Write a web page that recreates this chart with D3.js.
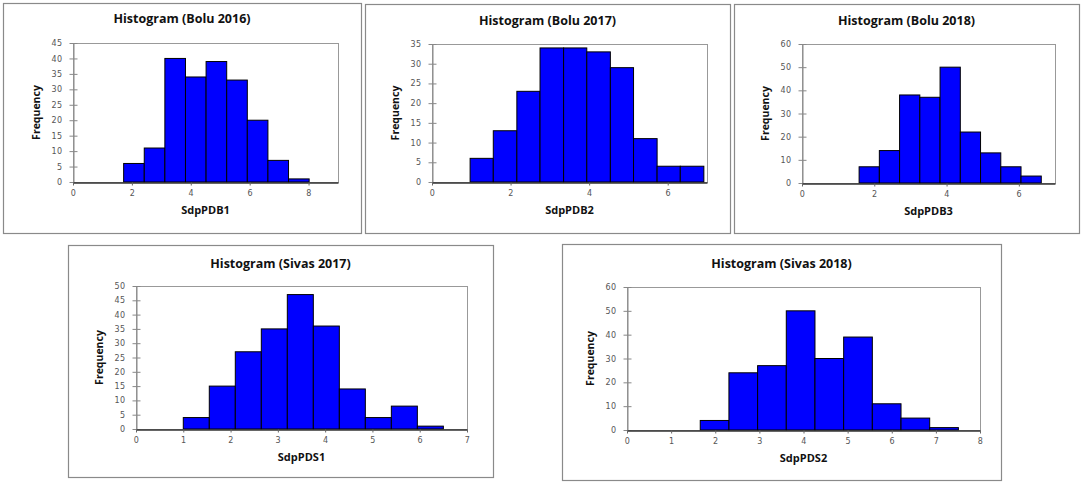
<!DOCTYPE html>
<html>
<head>
<meta charset="utf-8">
<script src="https://cdn.jsdelivr.net/npm/d3@7"></script>
<style>
  html, body { margin: 0; padding: 0; background: #fff; }
  svg { display: block; }
  .title { font-family: "Open Sans", sans-serif; font-weight: 700; font-size: 12.5px; fill: #111; }
  .xlab { font-family: "Open Sans", sans-serif; font-weight: 700; font-size: 11px; fill: #111; }
  .ylab { font-family: "Liberation Sans Narrow", "Open Sans", sans-serif; font-weight: 700; font-size: 10.5px; fill: #111; }
  .tick text { font-family: "DejaVu Sans", sans-serif; font-size: 8px; fill: #555; letter-spacing: 0.4px; }
</style>
</head>
<body>
<svg id="chart" width="1081" height="484"></svg>
<script>
// Histogram data: bin edges and frequencies per panel
const bolu2016Edges  = [1.72, 2.42, 3.12, 3.82, 4.52, 5.22, 5.92, 6.62, 7.32, 8.02];
const bolu2016Counts = [6, 11, 40, 34, 39, 33, 20, 7, 1];

const bolu2017Edges  = [0.97, 1.56, 2.16, 2.75, 3.35, 3.94, 4.54, 5.13, 5.73, 6.32, 6.92];
const bolu2017Counts = [6, 13, 23, 34, 34, 33, 29, 11, 4, 4];

const bolu2018Edges  = [1.58, 2.14, 2.70, 3.26, 3.82, 4.38, 4.94, 5.50, 6.06, 6.62];
const bolu2018Counts = [7, 14, 38, 37, 50, 22, 13, 7, 3];

const sivas2017Edges  = [1.00, 1.55, 2.10, 2.65, 3.20, 3.75, 4.30, 4.85, 5.40, 5.95, 6.50];
const sivas2017Counts = [4, 15, 27, 35, 47, 36, 14, 4, 8, 1];

const sivas2018Edges  = [1.66, 2.31, 2.96, 3.61, 4.26, 4.91, 5.56, 6.21, 6.86, 7.51];
const sivas2018Counts = [4, 24, 27, 50, 30, 39, 11, 5, 1];

// axis ticks
const xTicksEven9 = [0, 2, 4, 6, 8];
const xTicksEven7 = [0, 2, 4, 6];
const xTicks7 = [0, 1, 2, 3, 4, 5, 6, 7];
const xTicks8 = [0, 1, 2, 3, 4, 5, 6, 7, 8];
const yTicks45 = [0, 5, 10, 15, 20, 25, 30, 35, 40, 45];
const yTicks35 = [0, 5, 10, 15, 20, 25, 30, 35];
const yTicks50 = [0, 5, 10, 15, 20, 25, 30, 35, 40, 45, 50];
const yTicks60 = [0, 10, 20, 30, 40, 50, 60];

const panels = [
  { title: "Histogram (Bolu 2016)", xlab: "SdpPDB1", edges: bolu2016Edges, counts: bolu2016Counts,
    xMax: 9, yMax: 45, xTicks: xTicksEven9, yTicks: yTicks45,
    frame: [3, 3, 361, 233], plot: [73, 43, 338, 182], titleY: 19 },
  { title: "Histogram (Bolu 2017)", xlab: "SdpPDB2", edges: bolu2017Edges, counts: bolu2017Counts,
    xMax: 7, yMax: 35, xTicks: xTicksEven7, yTicks: yTicks35,
    frame: [365, 4, 730, 233], plot: [432, 44, 707, 182], titleY: 21 },
  { title: "Histogram (Bolu 2018)", xlab: "SdpPDB3", edges: bolu2018Edges, counts: bolu2018Counts,
    xMax: 7, yMax: 60, xTicks: xTicksEven7, yTicks: yTicks60,
    frame: [734, 4, 1079, 233], plot: [802, 44, 1055, 183], titleY: 21 },
  { title: "Histogram (Sivas 2017)", xlab: "SdpPDS1", edges: sivas2017Edges, counts: sivas2017Counts,
    xMax: 7, yMax: 50, xTicks: xTicks7, yTicks: yTicks50,
    frame: [68, 245, 493, 477], plot: [136, 286, 467, 429], titleY: 264 },
  { title: "Histogram (Sivas 2018)", xlab: "SdpPDS2", edges: sivas2018Edges, counts: sivas2018Counts,
    xMax: 8, yMax: 60, xTicks: xTicks8, yTicks: yTicks60,
    frame: [562, 244, 1001, 480], plot: [627, 287, 980, 430], titleY: 264 },
];

const svg = d3.select("#chart");
const fmt = d3.format("d");

panels.forEach(p => {
  const [fx0, fy0, fx1, fy1] = p.frame;
  const [px0, py0, px1, py1] = p.plot;
  const g = svg.append("g");

  // outer frame
  g.append("rect").attr("x", fx0 + 0.5).attr("y", fy0 + 0.5)
    .attr("width", fx1 - fx0).attr("height", fy1 - fy0)
    .attr("fill", "#fff").attr("stroke", "#8a8a8a").attr("stroke-width", 1.2);

  const x = d3.scaleLinear().domain([0, p.xMax]).range([px0, px1]);
  const y = d3.scaleLinear().domain([0, p.yMax]).range([py1, py0]);

  // plot area border (top/right)
  g.append("rect").attr("x", px0 + 0.5).attr("y", py0 + 0.5)
    .attr("width", px1 - px0).attr("height", py1 - py0)
    .attr("fill", "none").attr("stroke", "#999");

  // bars
  const bins = p.counts.map((c, i) => ({ x0: p.edges[i], x1: p.edges[i + 1], n: c }));
  g.selectAll("rect.bar").data(bins).join("rect").attr("class", "bar")
    .attr("x", d => x(d.x0)).attr("width", d => x(d.x1) - x(d.x0))
    .attr("y", d => y(d.n)).attr("height", d => y(0) - y(d.n))
    .attr("fill", "#0000ff").attr("stroke", "#000").attr("stroke-width", 1);

  // y axis (gray, crossing ticks)
  const gy = g.append("g").attr("transform", `translate(${px0 + 0.5},0)`)
    .call(d3.axisLeft(y).tickValues(p.yTicks).tickFormat(fmt).tickSize(4).tickPadding(7).tickSizeOuter(0));
  gy.select(".domain").attr("stroke", "#888");
  gy.selectAll(".tick line").attr("stroke", "#888").attr("x2", 4).attr("x1", -4);

  // x axis (dark line, ticks down)
  const gx = g.append("g").attr("transform", `translate(0,${py1 + 0.5})`)
    .call(d3.axisBottom(x).tickValues(p.xTicks).tickFormat(fmt).tickSize(3).tickPadding(5).tickSizeOuter(0));
  gx.select(".domain").attr("stroke", "#333").attr("stroke-width", 1.3);
  gx.selectAll(".tick line").attr("stroke", "#666");

  // texts
  g.append("text").attr("class", "title").attr("x", (fx0 + fx1) / 2).attr("y", p.titleY)
    .attr("dy", "0.35em").attr("text-anchor", "middle").text(p.title);
  g.append("text").attr("class", "xlab").attr("x", (px0 + px1) / 2).attr("y", py1 + 28)
    .attr("dy", "0.35em").attr("text-anchor", "middle").text(p.xlab);
  g.append("text").attr("class", "ylab")
    .attr("transform", `translate(${px0 - 37},${(py0 + py1) / 2}) rotate(-90)`)
    .attr("dy", "0.35em").attr("text-anchor", "middle").text("Frequency");
});
</script>
</body>
</html>
